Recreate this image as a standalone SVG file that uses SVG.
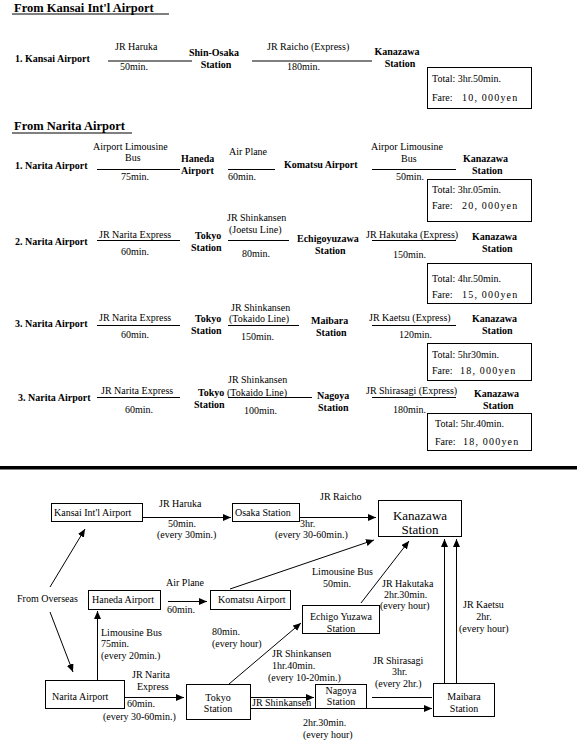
<svg xmlns="http://www.w3.org/2000/svg" width="577" height="740" viewBox="0 0 577 740">
<defs>
<marker id="ah" viewBox="0 0 8 7" refX="8" refY="3.5" markerWidth="8" markerHeight="7" markerUnits="userSpaceOnUse" orient="auto">
<path d="M0,0 L8,3.5 L0,7 z" fill="#000"/>
</marker>
</defs>
<style>
text{font-family:"Liberation Serif","Times New Roman",serif;font-size:10px;fill:#000}
.b{font-weight:bold}
.h{font-weight:bold;font-size:12.5px}
.c{text-anchor:middle}
.k{font-size:13px}
.f{letter-spacing:1.2px}
.ln{stroke:#000;stroke-width:1;fill:none}
.box{stroke:#000;stroke-width:1;fill:#fff}
.con{stroke:#000;stroke-width:1;fill:none}
.arr{marker-end:url(#ah)}
</style>
<rect width="577" height="740" fill="#fff"/>

<!-- Section: From Kansai -->
<g id="kansai-route">
<text class="h" x="14" y="12">From Kansai Int'l Airport</text>
<line class="ln" x1="12" y1="14" x2="169" y2="14"/>
<text class="b" x="15" y="62">1. Kansai Airport</text>
<text x="115" y="50">JR Haruka</text>
<line class="ln" x1="108" y1="61" x2="192" y2="61"/>
<text x="120" y="70">50min.</text>
<text class="b c" x="214" y="56">Shin-Osaka</text>
<text class="b c" x="216" y="68">Station</text>
<text x="267" y="50">JR Raicho (Express)</text>
<line class="ln" x1="252" y1="61" x2="372" y2="61"/>
<text x="287" y="70">180min.</text>
<text class="b c" x="397" y="55">Kanazawa</text>
<text class="b c" x="400" y="67">Station</text>
<rect class="box" x="427.5" y="67.5" width="104" height="41"/>
<text x="432" y="82">Total: 3hr.50min.</text>
<text x="432" y="101">Fare:</text>
<text class="f" x="462" y="101">10, 000yen</text>
</g>

<!-- Section: From Narita -->
<g id="narita-title">
<text class="h" x="14" y="130">From Narita Airport</text>
<line class="ln" x1="12" y1="133" x2="132" y2="133"/>
</g>

<g id="narita-route-1">
<text class="b" x="15" y="168.5">1. Narita Airport</text>
<text x="93" y="150">Airport Limousine</text>
<text x="125" y="161">Bus</text>
<line class="ln" x1="97" y1="169.5" x2="180" y2="169.5"/>
<text x="121" y="180">75min.</text>
<text class="b" x="181" y="162">Haneda</text>
<text class="b" x="181" y="174">Airport</text>
<text x="229" y="155">Air Plane</text>
<line class="ln" x1="228" y1="169.5" x2="275" y2="169.5"/>
<text x="228" y="180">60min.</text>
<text class="b" x="284" y="168">Komatsu Airport</text>
<text x="371" y="150">Airpor Limousine</text>
<text x="401" y="162">Bus</text>
<line class="ln" x1="372" y1="169.5" x2="456" y2="169.5"/>
<text x="396" y="180">50min.</text>
<text class="b" x="463" y="162">Kanazawa</text>
<text class="b" x="472" y="174">Station</text>
<rect class="box" x="427.5" y="179.5" width="104" height="42"/>
<text x="432" y="193">Total: 3hr.05min.</text>
<text x="432" y="209">Fare:</text>
<text class="f" x="462" y="209">20, 000yen</text>
</g>

<g id="narita-route-2">
<text class="b" x="15" y="244.5">2. Narita Airport</text>
<text x="99" y="237.5">JR Narita Express</text>
<line class="ln" x1="97" y1="240.5" x2="180" y2="240.5"/>
<text x="121" y="254.5">60min.</text>
<text class="b" x="195" y="238.5">Tokyo</text>
<text class="b" x="191" y="250.5">Station</text>
<text x="227" y="220.5">JR Shinkansen</text>
<text x="229" y="232.5">(Joetsu Line)</text>
<line class="ln" x1="228" y1="240.5" x2="289" y2="240.5"/>
<text x="242" y="256.5">80min.</text>
<text class="b" x="297" y="241.5">Echigoyuzawa</text>
<text class="b" x="315" y="253.5">Station</text>
<text x="366" y="237.5">JR Hakutaka (Express)</text>
<line class="ln" x1="372" y1="240.5" x2="456" y2="240.5"/>
<text x="393" y="257.5">150min.</text>
<text class="b" x="472" y="239.5">Kanazawa</text>
<text class="b" x="482" y="251.5">Station</text>
<rect class="box" x="427.5" y="263.5" width="104" height="40"/>
<text x="432" y="282">Total: 4hr.50min.</text>
<text x="432" y="298">Fare:</text>
<text class="f" x="462" y="298">15, 000yen</text>
</g>

<g id="narita-route-3">
<text class="b" x="15" y="326.5">3. Narita Airport</text>
<text x="99" y="320.5">JR Narita Express</text>
<line class="ln" x1="97" y1="325.5" x2="180" y2="325.5"/>
<text x="121" y="337.5">60min.</text>
<text class="b" x="195" y="321.5">Tokyo</text>
<text class="b" x="191" y="333.5">Station</text>
<text x="231" y="310.5">JR Shinkansen</text>
<text x="229" y="321.5">(Tokaido Line)</text>
<line class="ln" x1="228" y1="325.5" x2="299" y2="325.5"/>
<text x="241" y="339.5">150min.</text>
<text class="b" x="311" y="323.5">Maibara</text>
<text class="b" x="316" y="335.5">Station</text>
<text x="369" y="320.5">JR Kaetsu (Express)</text>
<line class="ln" x1="372" y1="325.5" x2="456" y2="325.5"/>
<text x="399" y="337.5">120min.</text>
<text class="b" x="472" y="321.5">Kanazawa</text>
<text class="b" x="482" y="333.5">Station</text>
<rect class="box" x="427.5" y="343.5" width="104" height="37"/>
<text x="432" y="358">Total: 5hr30min.</text>
<text x="432" y="374">Fare:</text>
<text class="f" x="460" y="374">18, 000yen</text>
</g>

<g id="narita-route-4">
<text class="b" x="18" y="400.5">3. Narita Airport</text>
<text x="101" y="393.5">JR Narita Express</text>
<line class="ln" x1="97" y1="397.5" x2="180" y2="397.5"/>
<text x="125" y="412.5">60min.</text>
<text class="b" x="198" y="395.5">Tokyo</text>
<text class="b" x="194" y="407.5">Station</text>
<text x="228" y="382.5">JR Shinkansen</text>
<text x="227" y="395.5">(Tokaido Line)</text>
<line class="ln" x1="228" y1="397.5" x2="312" y2="397.5"/>
<text x="244" y="413.5">100min.</text>
<text class="b" x="317" y="398.5">Nagoya</text>
<text class="b" x="318" y="410.5">Station</text>
<text x="366" y="393.5">JR Shirasagi (Express)</text>
<line class="ln" x1="372" y1="397.5" x2="456" y2="397.5"/>
<text x="393" y="412.5">180min.</text>
<text class="b" x="474" y="396.5">Kanazawa</text>
<text class="b" x="483" y="408.5">Station</text>
<rect class="box" x="427.5" y="413.5" width="104" height="37"/>
<text x="435" y="427">Total: 5hr.40min.</text>
<text x="435" y="445">Fare:</text>
<text class="f" x="463" y="445">18, 000yen</text>
</g>

<rect id="separator" x="0" y="466" width="577" height="3.5" fill="#000"/>

<!-- Route map nodes -->
<g id="n-kansai">
<rect class="box" x="51.5" y="503.5" width="91" height="18"/>
<text x="54" y="516">Kansai Int'l Airport</text>
</g>
<g id="n-osaka">
<rect class="box" x="232.5" y="503.5" width="67" height="18"/>
<text x="235" y="516">Osaka Station</text>
</g>
<g id="n-kanazawa">
<rect class="box" x="378.5" y="500.5" width="83" height="36"/>
<text class="k c" x="420" y="520">Kanazawa</text>
<text class="k c" x="420" y="534">Station</text>
</g>
<g id="n-overseas">
<text x="17" y="602">From Overseas</text>
</g>
<g id="n-haneda">
<rect class="box" x="88.5" y="590.5" width="72" height="19"/>
<text x="92" y="603">Haneda Airport</text>
</g>
<g id="n-komatsu">
<rect class="box" x="210.5" y="590.5" width="80" height="19"/>
<text x="218" y="603">Komatsu Airport</text>
</g>
<g id="n-echigo">
<rect class="box" x="302.5" y="605.5" width="77" height="28"/>
<text class="c" x="341" y="620">Echigo Yuzawa</text>
<text class="c" x="341" y="632">Station</text>
</g>
<g id="n-narita">
<rect class="box" x="45.5" y="680.5" width="79" height="28"/>
<text x="52" y="700">Narita Airport</text>
</g>
<g id="n-tokyo">
<rect class="box" x="186.5" y="684.5" width="64" height="35"/>
<text class="c" x="218" y="701">Tokyo</text>
<text class="c" x="218" y="712">Station</text>
</g>
<g id="n-nagoya">
<rect class="box" x="315.5" y="684.5" width="51" height="24"/>
<text class="c" x="341" y="694">Nagoya</text>
<text class="c" x="341" y="705">Station</text>
</g>
<g id="n-maibara">
<rect class="box" x="433.5" y="683.5" width="61" height="33"/>
<text class="c" x="464" y="700">Maibara</text>
<text class="c" x="464" y="712">Station</text>
</g>

<!-- Connectors -->
<g id="connectors">
<line class="con arr" x1="143" y1="517.5" x2="231" y2="517.5"/>
<line class="con arr" x1="300" y1="517.5" x2="376" y2="517.5"/>
<line class="con arr" x1="50" y1="587" x2="85" y2="529"/>
<line class="con arr" x1="50" y1="612" x2="73" y2="672"/>
<line class="con arr" x1="97.5" y1="680" x2="97.5" y2="611"/>
<line class="con arr" x1="168" y1="601.5" x2="207" y2="601.5"/>
<line class="con arr" x1="230" y1="589" x2="374" y2="540"/>
<line class="con arr" x1="361" y1="603" x2="409" y2="541"/>
<line class="con arr" x1="124" y1="697.5" x2="184" y2="697.5"/>
<line class="con arr" x1="229" y1="684" x2="301" y2="623"/>
<line class="con arr" x1="251" y1="697.5" x2="314" y2="697.5"/>
<line class="con arr" x1="251" y1="708.5" x2="432" y2="708.5"/>
<line class="con" x1="372" y1="697.5" x2="432" y2="697.5"/>
<line class="con arr" x1="444.5" y1="683" x2="444.5" y2="539"/>
<line class="con arr" x1="456.5" y1="683" x2="456.5" y2="539"/>
</g>

<!-- Connector labels -->
<g id="labels">
<text x="159" y="507">JR Haruka</text>
<text x="168" y="527">50min.</text>
<text x="157" y="538">(every 30min.)</text>
<text x="320" y="500">JR Raicho</text>
<text x="300" y="527">3hr.</text>
<text x="275" y="538">(every 30-60min.)</text>
<text x="166" y="586">Air Plane</text>
<text x="167" y="613">60min.</text>
<text x="312" y="575">Limousine Bus</text>
<text x="323" y="587">50min.</text>
<text x="382" y="587">JR Hakutaka</text>
<text x="384" y="598">2hr.30min.</text>
<text x="380" y="609">(every hour)</text>
<text x="463" y="608">JR Kaetsu</text>
<text class="c" x="484" y="620">2hr.</text>
<text x="459" y="632">(every hour)</text>
<text x="101" y="636">Limousine Bus</text>
<text x="101" y="647">75min.</text>
<text x="101" y="659">(every 20min.)</text>
<text x="212" y="635">80min.</text>
<text x="212" y="647">(every hour)</text>
<text x="272" y="657">JR Shinkansen</text>
<text x="272" y="669">1hr.40min.</text>
<text x="268" y="681">(every 10-20min.)</text>
<text x="373" y="664">JR Shirasagi</text>
<text x="392" y="675">3hr.</text>
<text x="375" y="687">(every 2hr.)</text>
<text x="132" y="678">JR Narita</text>
<text x="137" y="690">Express</text>
<text x="127" y="707">60min.</text>
<text x="103" y="720">(every 30-60min.)</text>
<text x="252" y="706">JR Shinkansen</text>
<text x="303" y="726">2hr.30min.</text>
<text x="303" y="738">(every hour)</text>
</g>
</svg>
